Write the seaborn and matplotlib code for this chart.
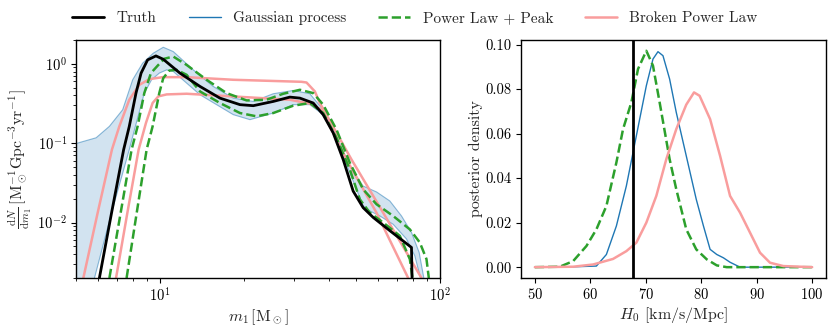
import numpy as np
import matplotlib
matplotlib.use("Agg")
import matplotlib.pyplot as plt
from matplotlib.lines import Line2D
from matplotlib.ticker import NullFormatter
import seaborn as sns

# ----------------------- Data -----------------------
# left panel: mass spectrum dN/dm1, log-log
truth_m = [6.06, 6.70, 7.40, 7.75, 8.19, 8.54, 9.01, 9.65, 10.25, 11.76, 13.87, 16.34,
           19.27, 21.50, 25.34, 29.06, 31.55, 35.20, 38.21, 41.50, 45.05, 48.91, 53.1,
           57.67, 66.13, 79.04, 79.7]
truth_y = [0.002, 0.0133, 0.0832, 0.163, 0.428, 0.764, 1.122, 1.259, 1.143, 0.764, 0.519, 0.370,
           0.306, 0.297, 0.336, 0.381, 0.370, 0.321, 0.229, 0.135, 0.0623, 0.0249, 0.0154,
           0.0116, 0.0079, 0.00485, 0.001]

gp_hi_m = [5.0, 5.90, 6.58, 7.34, 7.97, 8.65, 9.44, 10.25, 11.13, 13.12, 15.47, 18.24, 21.50,
           25.34, 29.87, 34.25, 38.21, 42.65, 47.59, 53.1, 59.27, 66.13, 72.79, 79.04, 84.19, 87.49]
gp_hi_y = [0.099, 0.117, 0.163, 0.264, 0.630, 1.019, 1.361, 1.618, 1.428, 0.840, 0.519, 0.370, 0.336,
           0.420, 0.462, 0.420, 0.264, 0.122, 0.0514, 0.0288, 0.0243, 0.0187, 0.0121, 0.0075, 0.0042, 0.002]
gp_lo_m = [5.0, 5.82, 6.70, 7.75, 8.15, 8.77, 9.31, 9.92, 10.54, 11.13, 13.87, 18.24, 20.92,
           25.34, 29.87, 34.25, 38.21, 42.65, 47.59, 53.1, 56.1, 60.92, 67.97, 75.86, 81.24, 85.12]
gp_lo_y = [0.0003, 0.002, 0.0133, 0.0832, 0.163, 0.428, 0.630, 0.764, 0.840, 0.802, 0.408, 0.229, 0.198,
           0.240, 0.306, 0.306, 0.229, 0.111, 0.0424, 0.0162, 0.0140, 0.0121, 0.0095, 0.0062, 0.0038, 0.002]

plp_hi_m = [6.58, 7.22, 7.90, 8.30, 8.77, 9.26, 9.79, 10.34, 11.13, 12.42, 14.64, 17.26, 20.35,
            23.99, 27.51, 31.55, 35.20, 38.21, 42.65, 47.59, 53.1, 59.27, 67.97, 77.97, 84.65, 89.42, 91.16]
plp_hi_y = [0.002, 0.0133, 0.0832, 0.163, 0.428, 0.764, 0.95, 1.16, 1.236, 0.970, 0.630, 0.428, 0.346,
            0.353, 0.420, 0.471, 0.428, 0.306, 0.148, 0.0566, 0.0262, 0.0170, 0.0121, 0.0082, 0.0056, 0.00346, 0.002]
plp_lo_m = [7.58, 8.24, 8.94, 9.39, 9.92, 10.25, 10.77, 11.44, 12.42, 13.87, 16.34, 19.27, 22.09,
            25.34, 29.87, 34.25, 38.21, 42.65, 47.59, 51.67, 56.1, 62.61, 71.80, 77.97, 79.70]
plp_lo_y = [0.002, 0.0133, 0.0832, 0.163, 0.428, 0.661, 0.824, 0.840, 0.728, 0.449, 0.321, 0.240, 0.218,
            0.240, 0.297, 0.321, 0.240, 0.117, 0.0467, 0.0196, 0.0133, 0.0100, 0.0068, 0.00346, 0.002]

bpl_hi_m = [5.31, 5.97, 6.72, 7.14, 7.75, 8.42, 9.14, 10.20, 12.42, 18.24, 31.98, 33.32, 35.69,
            37.18, 48.24, 62.61, 85.82]
bpl_hi_y = [0.002, 0.0131, 0.0832, 0.163, 0.353, 0.544, 0.641, 0.680, 0.680, 0.630, 0.594, 0.582, 0.449,
            0.321, 0.0623, 0.0133, 0.002]
bpl_lo_m = [6.95, 7.63, 8.37, 8.89, 9.39, 9.84, 10.54, 12.42, 29.06, 34.25, 37.71, 46.30, 59.27, 76.90]
bpl_lo_y = [0.002, 0.0133, 0.0832, 0.180, 0.321, 0.389, 0.412, 0.420, 0.353, 0.315, 0.264, 0.0623,
            0.0133, 0.002]

# right panel: H0 posteriors
h0_truth = 67.7
gp_h0 = [50, 55, 61.1, 62.9, 64.7, 66.5, 68.3, 70.1, 71.3, 72.2, 73.1, 74.3, 75.5, 77.3, 79.1,
         80.4, 81.6, 82.8, 84.0, 85.2, 87.0, 90, 100]
gp_post = [0, 0, 0.0005, 0.0057, 0.0185, 0.0365, 0.059, 0.0815, 0.0935, 0.0968, 0.095, 0.0845,
           0.0695, 0.050, 0.0305, 0.0185, 0.008, 0.0057, 0.0042, 0.0022, 0.0, 0, 0]
plp_h0 = [50, 54.5, 56.9, 59.3, 61.1, 62.9, 64.7, 65.9, 67.4, 68.6, 70.1, 71.3, 72.5, 74.3, 75.5,
          77.3, 79.1, 81.0, 82.8, 84.6, 90, 100]
plp_post = [0, 0.0002, 0.0027, 0.0095, 0.017, 0.0275, 0.047, 0.062, 0.074, 0.089, 0.0972, 0.0905,
            0.074, 0.0485, 0.035, 0.017, 0.008, 0.0035, 0.0008, 0, 0, 0]
bpl_h0 = [50, 56.9, 60.5, 64.1, 66.5, 68.3, 70.1, 71.9, 73.7, 75.5, 77.3, 78.7, 79.7, 81.6, 83.4,
          85.2, 87.0, 88.8, 90.6, 92.4, 94.8, 100]
bpl_post = [0, 0.0002, 0.0012, 0.0037, 0.0072, 0.011, 0.020, 0.032, 0.0485, 0.062, 0.073, 0.0785,
            0.077, 0.0665, 0.050, 0.032, 0.0245, 0.0155, 0.0065, 0.002, 0.0005, 0]

C_GP = "#1f77b4"
C_PLP = "#2ca02c"
C_BPL = "#f99d9d"

# ----------------------- Style -----------------------
sns.set_theme(style="ticks")
plt.rcParams.update({
    "font.family": ["cmr10", "DejaVu Serif"],
    "mathtext.fontset": "cm",
    "axes.formatter.use_mathtext": True,
    "axes.unicode_minus": False,
    "axes.edgecolor": "black",
    "axes.linewidth": 1.0,
    "xtick.color": "black",
    "ytick.color": "black",
    "xtick.labelsize": 10.5,
    "ytick.labelsize": 10.5,
    "axes.labelsize": 11.5,
    "axes.labelpad": 2.0,
    "xtick.major.size": 3.5,
    "ytick.major.size": 3.5,
    "xtick.minor.size": 2.0,
    "ytick.minor.size": 2.0,
    "xtick.major.width": 0.8,
    "ytick.major.width": 0.8,
    "xtick.minor.width": 0.6,
    "ytick.minor.width": 0.6,
    "xtick.major.pad": 3.0,
    "ytick.major.pad": 3.0,
    "xtick.direction": "out",
    "ytick.direction": "out",
})


def line(ax, x, y, **kw):
    sns.lineplot(x=x, y=y, ax=ax, sort=False, estimator=None, **kw)


fig = plt.figure(figsize=(8.3, 3.32), dpi=100)
ax1 = fig.add_axes([0.0916, 0.1627, 0.4386, 0.7169])
ax2 = fig.add_axes([0.6277, 0.1627, 0.3675, 0.7169])

# ----------------------- Left: mass spectrum -----------------------
ax1.set_xscale("log")
ax1.set_yscale("log")
ax1.fill(np.concatenate([gp_hi_m, gp_lo_m[::-1]]), np.concatenate([gp_hi_y, gp_lo_y[::-1]]),
         color=C_GP, alpha=0.2, lw=0)
line(ax1, gp_hi_m, gp_hi_y, color=C_GP, lw=0.8, alpha=0.5)
line(ax1, gp_lo_m, gp_lo_y, color=C_GP, lw=0.8, alpha=0.5)
line(ax1, bpl_hi_m, bpl_hi_y, color=C_BPL, lw=1.8)
line(ax1, bpl_lo_m, bpl_lo_y, color=C_BPL, lw=1.8)
line(ax1, plp_hi_m, plp_hi_y, color=C_PLP, lw=1.8, linestyle="--")
line(ax1, plp_lo_m, plp_lo_y, color=C_PLP, lw=1.8, linestyle="--")
line(ax1, truth_m, truth_y, color="black", lw=2)

ax1.set_xlim(5, 100)
ax1.set_ylim(2e-3, 2)
ax1.xaxis.set_minor_formatter(NullFormatter())
ax1.set_xlabel(r"$m_1\,[\mathrm{M}_\odot]$")
ax1.set_ylabel(r"$\frac{\mathrm{d}N}{\mathrm{d}m_1}\,[\mathrm{M}_\odot^{-1}\mathrm{Gpc}^{-3}\mathrm{yr}^{-1}]$")

# ----------------------- Right: H0 posterior -----------------------
line(ax2, gp_h0, gp_post, color=C_GP, lw=1.0)
line(ax2, plp_h0, plp_post, color=C_PLP, lw=1.8, linestyle="--")
line(ax2, bpl_h0, bpl_post, color=C_BPL, lw=1.8)
ax2.axvline(h0_truth, color="black", lw=2)
ax2.set_xticks([50, 60, 70, 80, 90, 100])
ax2.set_yticks([0.0, 0.02, 0.04, 0.06, 0.08, 0.10])
ax2.set_yticklabels(["0.00", "0.02", "0.04", "0.06", "0.08", "0.10"])
ax2.set_xlabel(r"$H_0$ [km/s/Mpc]")
ax2.set_ylabel("posterior density")

for ax in (ax1, ax2):
    for s in ax.spines.values():
        s.set_visible(True)

handles = [
    Line2D([], [], color="black", lw=2),
    Line2D([], [], color=C_GP, lw=1.0),
    Line2D([], [], color=C_PLP, lw=1.8, linestyle="--"),
    Line2D([], [], color=C_BPL, lw=1.8),
]
labels = ["Truth", "Gaussian process", "Power Law + Peak", "Broken Power Law"]
fig.legend(handles, labels, loc="center", bbox_to_anchor=(0.5, 0.945), ncol=4,
           frameon=False, fontsize=11, handlelength=2.1, handletextpad=0.8,
           columnspacing=2.1)

fig.savefig("out.png", dpi=100)
